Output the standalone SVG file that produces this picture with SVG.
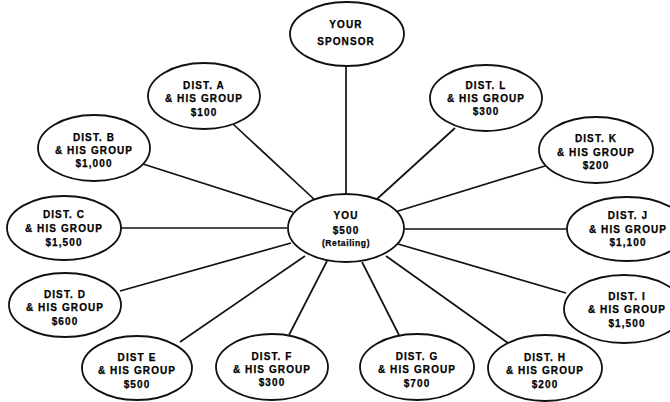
<svg xmlns="http://www.w3.org/2000/svg" width="670" height="402" viewBox="0 0 670 402">
<style>
.n ellipse{fill:#fff;stroke:#111;stroke-width:1.8}
.c line{stroke:#111;stroke-width:1.7}
text{font-family:"Liberation Sans",Arial,sans-serif;font-weight:bold;font-size:10px;letter-spacing:1.1px;fill:#000;text-anchor:middle;stroke:#000;stroke-width:0.25}
.s{font-size:8.5px;letter-spacing:0.6px}
</style>
<rect width="670" height="402" fill="#fff"/>
<g id="connectors" class="c">
<line x1="346" y1="66" x2="346" y2="194"/>
<line x1="233" y1="124" x2="316" y2="201"/>
<line x1="143" y1="164" x2="293" y2="212"/>
<line x1="121" y1="228" x2="287" y2="228"/>
<line x1="120" y1="291" x2="291" y2="243"/>
<line x1="180" y1="342" x2="305" y2="256"/>
<line x1="289" y1="335" x2="327" y2="261"/>
<line x1="399" y1="335" x2="362" y2="262"/>
<line x1="508" y1="343" x2="386" y2="256"/>
<line x1="566" y1="293" x2="398" y2="244"/>
<line x1="566" y1="229" x2="405" y2="229"/>
<line x1="545" y1="166" x2="395" y2="212"/>
<line x1="455" y1="128" x2="377" y2="199"/>
</g>
<g id="sponsor" class="n"><ellipse cx="347" cy="34" rx="57" ry="32"/><text x="346" y="28">YOUR</text><text x="346" y="45">SPONSOR</text></g>
<g id="you" class="n"><ellipse cx="346" cy="228" rx="58" ry="34"/><text x="346" y="219">YOU</text><text x="346" y="234">$500</text><text class="s" x="346" y="246">(Retailing)</text></g>
<g id="distA" class="n"><ellipse cx="204" cy="96" rx="56" ry="33"/><text x="204" y="89">DIST. A</text><text x="204" y="102">&amp; HIS GROUP</text><text x="204" y="116">$100</text></g>
<g id="distB" class="n"><ellipse cx="94" cy="148" rx="56" ry="33"/><text x="94" y="141">DIST. B</text><text x="94" y="154">&amp; HIS GROUP</text><text x="94" y="167">$1,000</text></g>
<g id="distC" class="n"><ellipse cx="64" cy="228" rx="57" ry="32"/><text x="64" y="218">DIST. C</text><text x="64" y="232">&amp; HIS GROUP</text><text x="64" y="246">$1,500</text></g>
<g id="distD" class="n"><ellipse cx="65" cy="305" rx="56" ry="32"/><text x="65" y="298">DIST. D</text><text x="65" y="311">&amp; HIS GROUP</text><text x="65" y="325">$600</text></g>
<g id="distE" class="n"><ellipse cx="137" cy="368" rx="55" ry="32"/><text x="137" y="361">DIST  E</text><text x="137" y="374">&amp; HIS GROUP</text><text x="137" y="388">$500</text></g>
<g id="distF" class="n"><ellipse cx="272" cy="367" rx="56" ry="33"/><text x="272" y="360">DIST. F</text><text x="272" y="373">&amp; HIS GROUP</text><text x="272" y="386">$300</text></g>
<g id="distG" class="n"><ellipse cx="417" cy="367" rx="57" ry="33"/><text x="417" y="360">DIST. G</text><text x="417" y="373">&amp; HIS GROUP</text><text x="417" y="387">$700</text></g>
<g id="distH" class="n"><ellipse cx="545" cy="368" rx="57" ry="33"/><text x="545" y="361">DIST. H</text><text x="545" y="374">&amp; HIS GROUP</text><text x="545" y="388">$200</text></g>
<g id="distI" class="n"><ellipse cx="624" cy="309" rx="60" ry="34"/><text x="627" y="300">DIST. I</text><text x="627" y="313">&amp; HIS GROUP</text><text x="627" y="327">$1,500</text></g>
<g id="distJ" class="n"><ellipse cx="627" cy="229" rx="60" ry="32"/><text x="628" y="219">DIST. J</text><text x="628" y="233">&amp; HIS GROUP</text><text x="628" y="246">$1,100</text></g>
<g id="distK" class="n"><ellipse cx="596" cy="150" rx="57" ry="33"/><text x="596" y="142">DIST. K</text><text x="596" y="156">&amp; HIS GROUP</text><text x="596" y="169">$200</text></g>
<g id="distL" class="n"><ellipse cx="486" cy="98" rx="56" ry="33"/><text x="486" y="89">DIST. L</text><text x="486" y="102">&amp; HIS GROUP</text><text x="486" y="115">$300</text></g>
</svg>
